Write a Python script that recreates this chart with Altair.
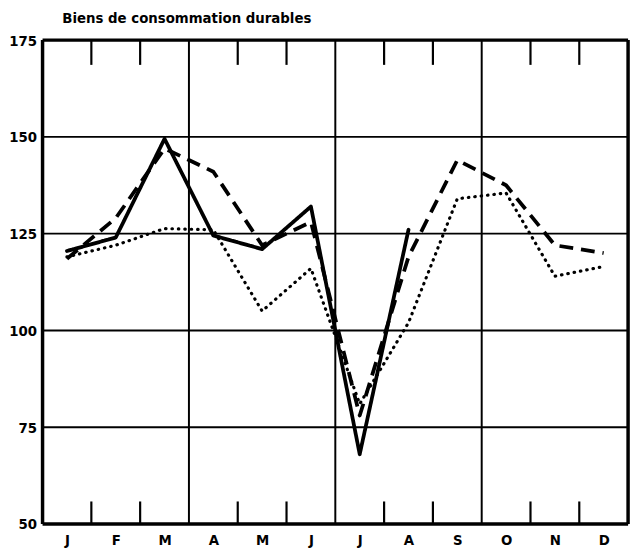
import json
import altair as alt
import pandas as pd

months = ["J", "F", "M", "A", "M", "J", "J", "A", "S", "O", "N", "D"]
solid = [120.5, 124, 149.5, 124.5, 121, 132, 68, 126, None, None, None, None]
dashed = [118.5, 129, 147, 141, 122, 128, 78, 119, 144, 137.5, 122, 120]
dotted = [119, 122, 126.3, 126, 105, 116, 81, 102, 134, 135.5, 114, 116.5]
y_ticks = [50, 75, 100, 125, 150, 175]
h_grid = [75, 100, 125, 150]
v_grid = [3, 6, 9]
minor_ticks = [1, 2, 4, 5, 7, 8, 10, 11]

FONT = "DejaVu Sans Condensed, Liberation Sans Narrow, Arial Narrow, sans-serif"

rows = []
for name, vals in [("solid", solid), ("dashed", dashed), ("dotted", dotted)]:
    for i, v in enumerate(vals):
        if v is not None:
            rows.append({"series": name, "m": i + 0.5, "v": v})
df = pd.DataFrame(rows)

xscale = alt.Scale(domain=[0, 12], nice=False, zero=False)
yscale = alt.Scale(domain=[50, 175], nice=False, zero=False)

label_expr = json.dumps(months) + "[floor(datum.value)]"

xaxis = alt.Axis(values=[i + 0.5 for i in range(12)], labelExpr=label_expr,
                 title=None, grid=False, domain=False, ticks=False,
                 labelFont=FONT, labelFontSize=15, labelFontWeight="bold",
                 labelColor="black", labelPadding=9)
yaxis = alt.Axis(values=y_ticks, title=None, grid=False, domain=False, ticks=False,
                 labelFont=FONT, labelFontSize=15, labelFontWeight="bold",
                 labelColor="black", labelPadding=6)

hg = alt.Chart(pd.DataFrame({"y": h_grid})).mark_rule(color="black", strokeWidth=2).encode(
    y=alt.Y("y:Q", scale=yscale, axis=yaxis)
)
vg = alt.Chart(pd.DataFrame({"x": v_grid})).mark_rule(color="black", strokeWidth=2).encode(
    x=alt.X("x:Q", scale=xscale, axis=xaxis)
)
frame_h = alt.Chart(pd.DataFrame({"y": [50, 175]})).mark_rule(color="black", strokeWidth=3.5).encode(
    y=alt.Y("y:Q", scale=yscale)
)
frame_v = alt.Chart(pd.DataFrame({"x": [0, 12]})).mark_rule(color="black", strokeWidth=3.5).encode(
    x=alt.X("x:Q", scale=xscale)
)
tk = pd.DataFrame(
    [{"x": t, "y": 175, "y2": 168.6} for t in minor_ticks]
    + [{"x": t, "y": 50, "y2": 55.8} for t in minor_ticks]
)
ticks = alt.Chart(tk).mark_rule(color="black", strokeWidth=2.2).encode(
    x=alt.X("x:Q", scale=xscale), y=alt.Y("y:Q", scale=yscale), y2="y2:Q"
)

def line(name, dash, width, cap):
    return alt.Chart(df[df.series == name]).mark_line(
        color="black", strokeWidth=width, strokeDash=dash, strokeCap=cap, strokeJoin="round"
    ).encode(
        x=alt.X("m:Q", scale=xscale),
        y=alt.Y("v:Q", scale=yscale),
    )

l_dotted = line("dotted", [0.5, 6], 3.2, "round")
l_dashed = line("dashed", [14, 8], 3.8, "butt")
l_solid = line("solid", [1, 0], 3.8, "round")

chart = alt.layer(hg, vg, frame_h, frame_v, ticks, l_dotted, l_dashed, l_solid).properties(
    width=593, height=490,
    autosize=alt.AutoSizeParams(type="none"),
    padding={"left": 35, "top": 29, "right": 6, "bottom": 31},
    title=alt.TitleParams("Biens de consommation durables", anchor="start", frame="group",
                          dx=20, offset=7, font=FONT, fontSize=15, fontWeight="bold",
                          color="black"),
).configure_view(stroke=None).configure(background="white")

chart.save("out.html", embed_options={"renderer": "svg", "actions": False})
